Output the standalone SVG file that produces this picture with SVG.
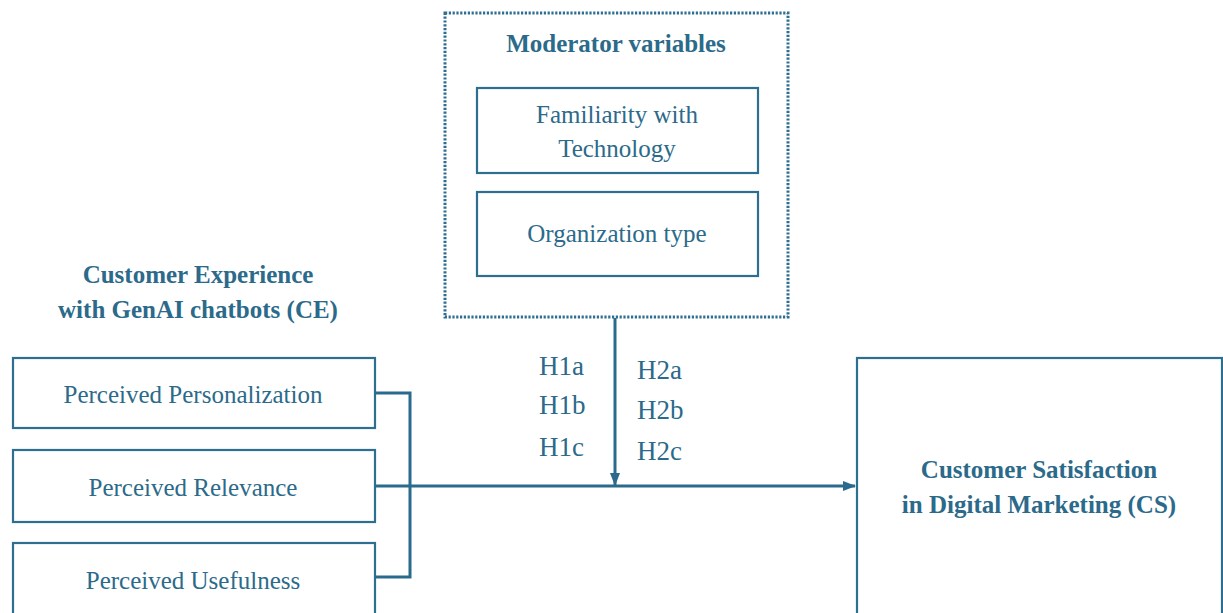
<svg xmlns="http://www.w3.org/2000/svg" width="1223" height="613" viewBox="0 0 1223 613">
<defs>
<style>
.box{fill:#fff;stroke:#2e6f90;stroke-width:2.2}
.dot{fill:none;stroke:#2e6f90;stroke-width:3;stroke-dasharray:2.2 1.6}
.t{font-family:"Liberation Serif","Times New Roman",serif;font-size:25px;fill:#2b6a8a;text-anchor:middle}
.b{font-weight:bold}
.h{font-family:"Liberation Serif","Times New Roman",serif;font-size:27px;fill:#2b6a8a}
.c{fill:none;stroke:#2a6a8c;stroke-width:3}
</style>
<marker id="ah" markerWidth="13" markerHeight="12" refX="12" refY="6" orient="auto" markerUnits="userSpaceOnUse">
<path d="M0,1 L13,6 L0,11 Z" fill="#2a6a8c"/>
</marker>
</defs>
<rect width="1223" height="613" fill="#fff"/>
<g id="moderator">
<rect class="dot" x="445" y="13" width="343" height="304"/>
<text class="t b" x="616" y="52">Moderator variables</text>
</g>
<g id="familiarity">
<rect class="box" x="477" y="88" width="281" height="85"/>
<text class="t" x="617" y="123">Familiarity with</text>
<text class="t" x="617" y="157">Technology</text>
</g>
<g id="orgtype">
<rect class="box" x="477" y="192" width="281" height="84"/>
<text class="t" x="617" y="242">Organization type</text>
</g>
<g id="ce-title">
<text class="t b" x="198" y="283">Customer Experience</text>
<text class="t b" x="198" y="318">with GenAI chatbots (CE)</text>
</g>
<g id="personalization">
<rect class="box" x="13" y="358" width="362" height="70"/>
<text class="t" x="193" y="403">Perceived Personalization</text>
</g>
<g id="relevance">
<rect class="box" x="13" y="450" width="362" height="72"/>
<text class="t" x="193" y="496">Perceived Relevance</text>
</g>
<g id="usefulness">
<rect class="box" x="13" y="543" width="362" height="80"/>
<text class="t" x="193" y="589">Perceived Usefulness</text>
</g>
<g id="cs">
<rect class="box" x="857" y="358" width="365" height="270"/>
<text class="t b" x="1039" y="478">Customer Satisfaction</text>
<text class="t b" x="1039" y="513">in Digital Marketing (CS)</text>
</g>
<g id="connectors">
<path class="c" d="M375,393 H410 V577 H375"/>
<path class="c" d="M375,486 H855" marker-end="url(#ah)"/>
<path class="c" d="M615,318 V485" marker-end="url(#ah)"/>
</g>
<g id="labels">
<text class="h" x="539" y="375">H1a</text>
<text class="h" x="539" y="414">H1b</text>
<text class="h" x="539" y="456">H1c</text>
<text class="h" x="637" y="379">H2a</text>
<text class="h" x="637" y="419">H2b</text>
<text class="h" x="637" y="460">H2c</text>
</g>
</svg>
